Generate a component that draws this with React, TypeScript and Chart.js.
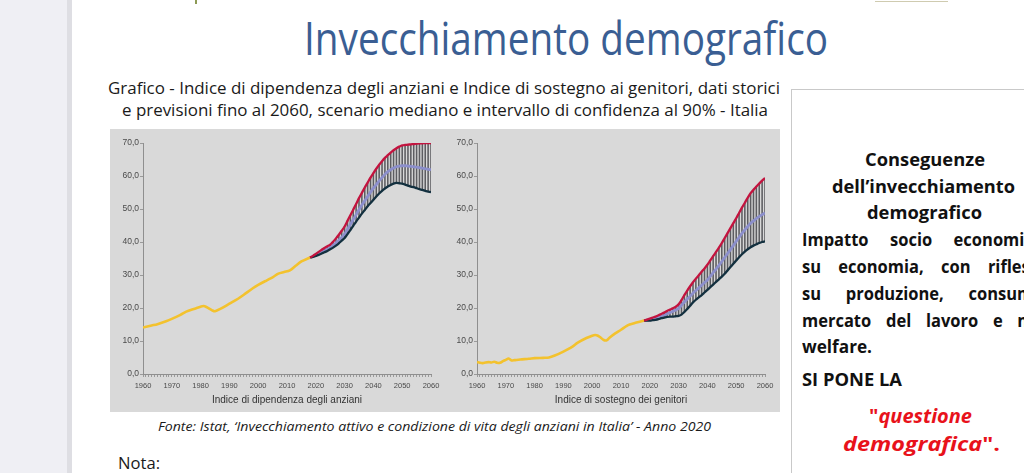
import React, { useEffect, useLayoutEffect, useRef } from 'react';
import { Chart, registerables } from 'chart.js';

Chart.register(...registerables);

// ---------- DATA ----------
const PROJ_YEARS = [2018, 2019, 2020, 2021, 2022, 2023, 2024, 2025, 2026, 2027, 2028, 2029, 2030, 2031, 2032, 2033, 2034, 2035, 2036, 2037, 2038, 2039, 2040, 2041, 2042, 2043, 2044, 2045, 2046, 2047, 2048, 2049, 2050, 2051, 2052, 2053, 2054, 2055, 2056, 2057, 2058, 2059, 2060];

// Indice di dipendenza degli anziani
const DEP_HIST_YEARS = [1960, 1963, 1965, 1968, 1970, 1973, 1975, 1978, 1980, 1981, 1982, 1984, 1985, 1987, 1990, 1993, 1995, 1998, 2000, 2003, 2005, 2007, 2009, 2011, 2013, 2015, 2018];
const DEP_HIST_VALUES = [14.1, 14.7, 15.1, 16.0, 16.7, 17.9, 18.9, 19.8, 20.4, 20.6, 20.3, 19.3, 19.0, 19.8, 21.3, 22.8, 24.0, 25.9, 27.0, 28.4, 29.3, 30.4, 30.9, 31.4, 32.8, 34.1, 35.3];
const DEP_UPPER = [35.3, 35.8, 36.4, 37.0, 37.6, 38.2, 38.7, 39.2, 40.1, 41.1, 42.2, 43.4, 44.7, 46.4, 48.1, 49.8, 51.5, 53.3, 54.9, 56.5, 58.0, 59.5, 60.9, 62.2, 63.4, 64.5, 65.5, 66.3, 67.1, 67.8, 68.4, 68.9, 69.3, 69.4, 69.5, 69.6, 69.7, 69.8, 69.9, 69.9, 70.0, 70.0, 70.0];
const DEP_MEDIAN = [35.3, 35.6, 36.0, 36.4, 36.9, 37.3, 37.8, 38.3, 39.0, 39.7, 40.5, 41.4, 42.4, 43.8, 45.3, 46.8, 48.3, 49.8, 51.2, 52.5, 53.8, 55.1, 56.3, 57.4, 58.5, 59.5, 60.5, 61.3, 61.9, 62.4, 62.8, 63.0, 63.1, 63.1, 63.0, 62.9, 62.8, 62.7, 62.5, 62.4, 62.2, 62.0, 61.9];
const DEP_LOWER = [35.3, 35.5, 35.8, 36.1, 36.5, 36.9, 37.3, 37.8, 38.3, 38.9, 39.6, 40.4, 41.2, 42.4, 43.6, 44.9, 46.2, 47.4, 48.6, 49.7, 50.8, 51.8, 52.8, 53.8, 54.7, 55.5, 56.2, 56.8, 57.3, 57.7, 57.9, 57.8, 57.7, 57.4, 57.1, 56.8, 56.6, 56.3, 56.0, 55.8, 55.5, 55.3, 55.1];

// Indice di sostegno dei genitori
const SUP_HIST_YEARS = [1960, 1961, 1962, 1963, 1964, 1965, 1966, 1967, 1968, 1969, 1970, 1971, 1972, 1973, 1975, 1978, 1980, 1983, 1985, 1987, 1990, 1993, 1995, 1998, 2000, 2001, 2002, 2003, 2004, 2005, 2006, 2008, 2010, 2012, 2013, 2015, 2018];
const SUP_HIST_VALUES = [3.6, 3.4, 3.3, 3.5, 3.6, 3.5, 3.7, 3.4, 3.4, 3.9, 4.3, 4.7, 4.1, 4.2, 4.4, 4.6, 4.8, 4.9, 5.0, 5.6, 6.8, 8.2, 9.5, 10.9, 11.6, 11.8, 11.6, 11.0, 10.3, 10.2, 11.0, 12.3, 13.4, 14.6, 15.0, 15.5, 16.2];
const SUP_UPPER = [16.2, 16.5, 16.8, 17.1, 17.4, 17.8, 18.2, 18.6, 19.1, 19.5, 19.9, 20.4, 21.1, 22.4, 23.9, 25.3, 26.6, 27.8, 28.9, 29.9, 31.0, 32.0, 33.1, 34.4, 35.7, 37.0, 38.3, 39.7, 41.2, 42.7, 44.2, 45.7, 47.2, 48.8, 50.4, 51.9, 53.4, 54.8, 55.8, 56.8, 57.7, 58.6, 59.4];
const SUP_MEDIAN = [16.2, 16.3, 16.4, 16.6, 16.9, 17.2, 17.5, 17.8, 18.2, 18.6, 19.0, 19.4, 19.9, 20.8, 21.8, 22.7, 23.6, 24.5, 25.3, 26.1, 26.9, 27.7, 28.5, 29.6, 30.7, 31.8, 32.9, 34.1, 35.3, 36.5, 37.7, 38.9, 40.2, 41.4, 42.6, 43.7, 44.7, 45.7, 46.4, 47.1, 47.7, 48.3, 48.8];
const SUP_LOWER = [16.2, 16.2, 16.2, 16.3, 16.4, 16.6, 16.9, 17.1, 17.3, 17.4, 17.4, 17.5, 17.6, 18.0, 18.8, 19.7, 20.7, 21.7, 22.5, 23.2, 23.9, 24.7, 25.5, 26.3, 27.1, 27.9, 28.7, 29.5, 30.4, 31.4, 32.4, 33.4, 34.4, 35.4, 36.3, 37.1, 37.8, 38.4, 38.9, 39.3, 39.7, 40.0, 40.2];

const X_MIN = 1960;
const X_MAX = 2060;
const Y_MIN = 0;
const Y_MAX = 70;

// ---------- STYLE ----------
const AX_FONT = "'Liberation Sans', Arial, sans-serif";
const SLIDE_FONT = "'Open Sans', 'Noto Sans', sans-serif";
const C_YELLOW = '#F3C22E';
const C_RED = '#C3143F';
const C_MEDIAN = '#8C8FCB';
const C_LOWER = '#13303F';
const C_HATCH = 'rgba(45,45,50,0.72)';

type PanelProps = {
  left: number; top: number; width: number; height: number;
  yAxisWidth: number; rightPad: number;
  histYears: number[]; histValues: number[];
  upper: number[]; median: number[]; lower: number[];
  title: string;
};

function Panel(p: PanelProps) {
  const ref = useRef<HTMLCanvasElement>(null);
  useEffect(() => {
    const toXY = (xs: number[], ys: number[]) => xs.map((x, i) => ({ x, y: ys[i] }));
    const hatch = PROJ_YEARS.slice(1).map((x, i) => ({ x, y: [p.lower[i + 1], p.upper[i + 1]] }));
    const chart = new Chart(ref.current as HTMLCanvasElement, {
      type: 'line',
      data: {
        datasets: [
          { type: 'line', data: toXY(p.histYears, p.histValues), borderColor: C_YELLOW, borderWidth: 2.6, pointRadius: 0, tension: 0.3, order: 1 } as any,
          { type: 'line', data: toXY(PROJ_YEARS, p.lower), borderColor: C_LOWER, borderWidth: 2.3, pointRadius: 0, tension: 0.3, order: 2 } as any,
          { type: 'line', data: toXY(PROJ_YEARS, p.median), borderColor: C_MEDIAN, borderWidth: 2.8, pointRadius: 0, tension: 0.3, order: 3 } as any,
          { type: 'line', data: toXY(PROJ_YEARS, p.upper), borderColor: C_RED, borderWidth: 2.3, pointRadius: 0, tension: 0.3, order: 0 } as any,
          { type: 'bar', data: hatch, backgroundColor: C_HATCH, barThickness: 0.9, borderWidth: 0, order: 10 } as any,
        ],
      },
      options: {
        animation: false,
        responsive: false,
        maintainAspectRatio: false,
        devicePixelRatio: 1,
        events: [],
        layout: { padding: { left: 0, top: 12, right: p.rightPad, bottom: 0 } },
        plugins: { legend: { display: false }, tooltip: { enabled: false }, title: { display: false } },
        scales: {
          x: {
            type: 'linear', min: X_MIN, max: X_MAX, offset: false,
            ticks: {
              stepSize: 1, maxTicksLimit: 200, autoSkip: false, maxRotation: 0, minRotation: 0,
              callback: (v: any) => (Math.round(v) % 10 === 0 ? String(Math.round(v)) : ''),
              font: { family: AX_FONT, size: 7.5 }, color: '#4a4a4a', padding: 4,
            },
            grid: { display: true, drawOnChartArea: false, drawTicks: true, tickLength: 3, color: '#9a9a9a', offset: false },
            border: { display: true, color: '#8f8f8f', width: 1 },
            title: { display: true, text: p.title, font: { family: AX_FONT, size: 10 }, color: '#333333', padding: { top: 0, bottom: 6 } },
            afterFit: (s: any) => { s.height = p.height - 12 - 231; },
          },
          y: {
            type: 'linear', min: Y_MIN, max: Y_MAX,
            ticks: {
              stepSize: 10,
              callback: (v: any) => Number(v).toFixed(1).replace('.', ','),
              font: { family: AX_FONT, size: 8.5 }, color: '#4a4a4a', padding: 1,
            },
            grid: { display: true, drawOnChartArea: false, drawTicks: true, tickLength: 3, color: '#9a9a9a' },
            border: { display: true, color: '#8f8f8f', width: 1 },
            afterFit: (s: any) => { s.width = p.yAxisWidth; },
          },
        },
      } as any,
    });
    return () => chart.destroy();
  }, []);
  return (
    <canvas
      ref={ref}
      width={p.width}
      height={p.height}
      style={{ position: 'absolute', left: p.left, top: p.top, width: p.width, height: p.height, display: 'block' }}
    />
  );
}

function FitText(props: { left: number; top: number; width: number; style?: React.CSSProperties; children: React.ReactNode }) {
  const ref = useRef<HTMLDivElement>(null);
  useLayoutEffect(() => {
    const fit = () => {
      const el = ref.current;
      if (!el) return;
      el.style.transform = 'none';
      const w = el.getBoundingClientRect().width;
      if (w > 0) el.style.transform = `scaleX(${props.width / w})`;
    };
    fit();
    if ((document as any).fonts && (document as any).fonts.ready) (document as any).fonts.ready.then(fit);
  }, [props.width]);
  return (
    <div
      ref={ref}
      style={{
        position: 'absolute', left: props.left, top: props.top, whiteSpace: 'nowrap',
        transformOrigin: '0 0', lineHeight: 1, display: 'inline-block', ...props.style,
      }}
    >
      {props.children}
    </div>
  );
}

const BOX_SCALE = 0.97;
function JLine(props: { top: number; words: string[] }) {
  return (
    <div
      style={{
        position: 'absolute', left: 802, top: props.top, width: 241 / BOX_SCALE,
        display: 'flex', justifyContent: 'space-between', whiteSpace: 'nowrap',
        transform: `scaleX(${BOX_SCALE})`, transformOrigin: '0 0', lineHeight: 1,
        fontWeight: 700, fontSize: 17, color: '#111',
      }}
    >
      {props.words.map((w, i) => (<span key={i}>{w}</span>))}
    </div>
  );
}

export default function App() {
  const boxText: React.CSSProperties = { fontWeight: 700, fontSize: 17, color: '#111' };
  const red: React.CSSProperties = { fontWeight: 700, fontSize: 19.5, color: '#E8121B' };
  return (
    <div style={{ position: 'fixed', left: 0, top: 0, width: 1024, height: 473, overflow: 'hidden', background: '#ffffff', fontFamily: SLIDE_FONT }}>
      {/* left band */}
      <div style={{ position: 'absolute', left: 0, top: 0, width: 67, height: 473, background: '#efeff4' }} />
      <div style={{ position: 'absolute', left: 67, top: 0, width: 5, height: 473, background: '#dedee3' }} />
      {/* top remnants */}
      <div style={{ position: 'absolute', left: 195, top: 0, width: 2, height: 4, background: '#8d9a55' }} />
      <div style={{ position: 'absolute', left: 875, top: 1, width: 73, height: 1, background: '#cfcbb0' }} />

      {/* title */}
      <FitText left={304} top={15} width={524} style={{ fontSize: 45, color: '#3A5E93' }}>Invecchiamento demografico</FitText>

      {/* subtitle */}
      <FitText left={108} top={80} width={672} style={{ fontSize: 16, color: '#1a1a1a' }}>
        Grafico - Indice di dipendenza degli anziani e Indice di sostegno ai genitori, dati storici
      </FitText>
      <FitText left={122} top={102} width={646} style={{ fontSize: 16, color: '#1a1a1a' }}>
        e previsioni fino al 2060, scenario mediano e intervallo di confidenza al 90% - Italia
      </FitText>

      {/* chart image background */}
      <div style={{ position: 'absolute', left: 110, top: 129, width: 670, height: 283, background: '#d9d9d9' }} />
      <Panel left={110} top={131} width={335} height={281} yAxisWidth={33} rightPad={14}
        histYears={DEP_HIST_YEARS} histValues={DEP_HIST_VALUES}
        upper={DEP_UPPER} median={DEP_MEDIAN} lower={DEP_LOWER}
        title="Indice di dipendenza degli anziani" />
      <Panel left={445} top={131} width={335} height={281} yAxisWidth={32} rightPad={15}
        histYears={SUP_HIST_YEARS} histValues={SUP_HIST_VALUES}
        upper={SUP_UPPER} median={SUP_MEDIAN} lower={SUP_LOWER}
        title="Indice di sostegno dei genitori" />

      {/* source */}
      <FitText left={158} top={420} width={553} style={{ fontSize: 13, fontStyle: 'italic', color: '#1a1a1a' }}>
        Fonte: Istat, ‘Invecchiamento attivo e condizione di vita degli anziani in Italia’ - Anno 2020
      </FitText>
      <FitText left={118} top={455} width={42} style={{ fontSize: 16, color: '#1a1a1a' }}>Nota:</FitText>

      {/* right box */}
      <div style={{ position: 'absolute', left: 791, top: 89, width: 300, height: 420, border: '1px solid #c9c9c9' }} />
      <FitText left={865} top={151} width={120} style={boxText}>Conseguenze</FitText>
      <FitText left={832} top={178} width={183} style={boxText}>dell’invecchiamento</FitText>
      <FitText left={867} top={204} width={115} style={boxText}>demografico</FitText>
      <JLine top={231} words={['Impatto', 'socio', 'economico']} />
      <JLine top={258} words={['su', 'economia,', 'con', 'riflessi']} />
      <JLine top={285} words={['su', 'produzione,', 'consumi,']} />
      <JLine top={312} words={['mercato', 'del', 'lavoro', 'e', 'nel']} />
      <FitText left={802} top={338} width={70} style={boxText}>welfare.</FitText>
      <FitText left={802} top={371} width={100} style={boxText}>SI PONE LA</FitText>
      <FitText left={869} top={406} width={103} style={red}>"<i>questione</i></FitText>
      <FitText left={843} top={434} width={157} style={red}><i>demografica</i>".</FitText>
    </div>
  );
}
